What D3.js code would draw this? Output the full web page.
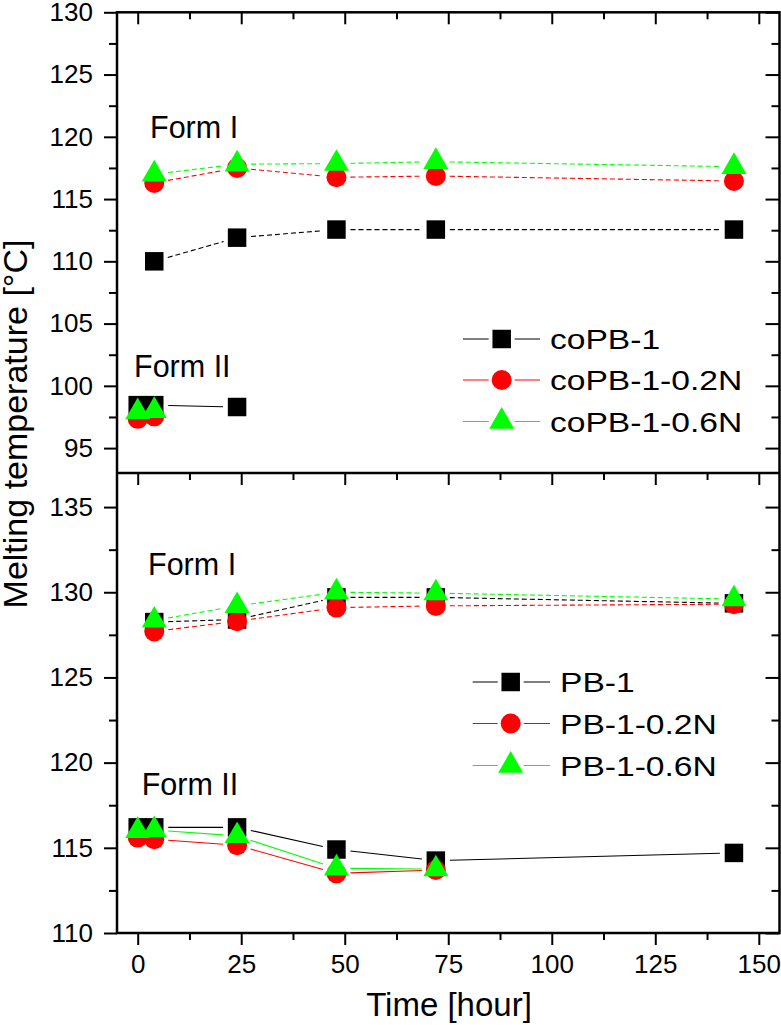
<!DOCTYPE html>
<html>
<head>
<meta charset="utf-8">
<script src="https://cdn.jsdelivr.net/npm/d3@7"></script>
<style>
  html, body { margin: 0; padding: 0; background: #fff; }
  svg { display: block; font-family: "Liberation Sans", Arial, sans-serif; }
</style>
</head>
<body>
<svg id="chart" width="781" height="1025"></svg>
<script>
// ---- data ----
// top panel: copolymer
const timeFormI = [4, 24, 48, 72, 144];
const coPB1_I    = [110.0, 111.9, 112.55, 112.55, 112.55];
const coPB1_02N_I = [116.3, 117.5, 116.75, 116.85, 116.45];
const coPB1_06N_I = [117.0, 117.8, 117.85, 118.0, 117.6];

const timeCoPB1_II = [0, 4, 24];
const coPB1_II     = [98.45, 98.45, 98.3];
const timeCoPBN_II = [0, 4];
const coPB1_02N_II = [97.35, 97.55];
const coPB1_06N_II = [97.9, 98.0];

// bottom panel: homopolymer
const PB1_I     = [128.25, 128.4, 129.7, 129.7, 129.35];
const PB1_02N_I = [127.7, 128.3, 129.1, 129.2, 129.3];
const PB1_06N_I = [128.35, 129.2, 130.0, 129.95, 129.6];

const timePB1_II = [0, 4, 24, 48, 72, 144];
const PB1_II     = [116.2, 116.2, 116.2, 114.9, 114.25, 114.7];
const timePBN_II = [0, 4, 24, 48, 72];
const PB1_02N_II = [115.6, 115.5, 115.15, 113.5, 113.7];
const PB1_06N_II = [116.0, 116.05, 115.7, 113.8, 113.75];

const topLegend = ["coPB-1", "coPB-1-0.2N", "coPB-1-0.6N"];
const botLegend = ["PB-1", "PB-1-0.2N", "PB-1-0.6N"];
const colors = ["#000000", "#ff0000", "#00ff00"];

const xMajor = [0, 25, 50, 75, 100, 125, 150];
const xMinor = [12.5, 37.5, 62.5, 87.5, 112.5, 137.5];
const yTopMajor = [95, 100, 105, 110, 115, 120, 125, 130];
const yTopMinor = [97.5, 102.5, 107.5, 112.5, 117.5, 122.5, 127.5];
const yBotMajor = [110, 115, 120, 125, 130, 135];
const yBotMinor = [112.5, 117.5, 122.5, 127.5, 132.5];

// ---- layout ----
const plotL = 117, plotR = 779.5, plotT = 12.3, plotM = 473, plotB = 933;
const svg = d3.select("#chart");

const x = d3.scaleLinear().domain([-5, 155]).range([plotL, plotR]);
const yTop = d3.scaleLinear().domain([93, 130]).range([plotM, plotT]);
const yBot = d3.scaleLinear().domain([110, 137]).range([plotB, plotM]);

const symbols = [d3.symbolSquare, d3.symbolCircle, d3.symbolTriangle];
const symSize = [342, 314, 270];

function styleAxis(g) {
  g.select(".domain").remove();
  g.selectAll(".tick line").attr("stroke", "#000").attr("stroke-width", 2);
  g.selectAll(".tick text")
    .attr("font-family", "'Liberation Sans', Arial, sans-serif")
    .attr("font-size", 26).attr("fill", "#000");
  g.attr("font-family", null).attr("font-size", null);
}

// left axis (outward), right axis (inward)
function yAxes(y, majors, minors) {
  svg.append("g").attr("transform", `translate(${plotL},0)`)
    .call(d3.axisLeft(y).tickValues(majors).tickSize(13).tickPadding(11).tickFormat(d3.format("d")))
    .call(styleAxis);
  svg.append("g").attr("transform", `translate(${plotL},0)`)
    .call(d3.axisLeft(y).tickValues(minors).tickSize(8).tickFormat(""))
    .call(styleAxis);
  svg.append("g").attr("transform", `translate(${plotR},0)`)
    .call(d3.axisLeft(y).tickValues(majors).tickSize(14).tickFormat(""))
    .call(styleAxis);
  svg.append("g").attr("transform", `translate(${plotR},0)`)
    .call(d3.axisLeft(y).tickValues(minors).tickSize(8).tickFormat(""))
    .call(styleAxis);
}

// horizontal axes: all ticks point down
function xAxis(yPos, labels) {
  svg.append("g").attr("transform", `translate(0,${yPos})`)
    .call(d3.axisBottom(x).tickValues(xMajor).tickSize(12).tickPadding(10)
      .tickFormat(labels ? d3.format("d") : ""))
    .call(styleAxis);
  svg.append("g").attr("transform", `translate(0,${yPos})`)
    .call(d3.axisBottom(x).tickValues(xMinor).tickSize(7).tickFormat(""))
    .call(styleAxis);
}

yAxes(yTop, yTopMajor, yTopMinor);
yAxes(yBot, yBotMajor, yBotMinor);
xAxis(plotT, false);
xAxis(plotM, false);
xAxis(plotB, true);

// frames
svg.append("rect").attr("x", plotL).attr("y", plotT)
  .attr("width", plotR - plotL).attr("height", plotB - plotT)
  .attr("fill", "none").attr("stroke", "#000").attr("stroke-width", 2.5);
svg.append("line").attr("x1", plotL).attr("x2", plotR).attr("y1", plotM).attr("y2", plotM)
  .attr("stroke", "#000").attr("stroke-width", 2.5);

// series: line segments with gaps round the markers, then markers
const gap = 14;
function drawSeries(xs, ys, y, idx, dashed) {
  const pts = xs.map((t, i) => [x(t), y(ys[i])]);
  const g = svg.append("g");
  for (let i = 0; i < pts.length - 1; i++) {
    const [x1, y1] = pts[i], [x2, y2] = pts[i + 1];
    const len = Math.hypot(x2 - x1, y2 - y1);
    if (len <= 2 * gap) continue;
    const ux = (x2 - x1) / len, uy = (y2 - y1) / len;
    g.append("line")
      .attr("x1", x1 + ux * gap).attr("y1", y1 + uy * gap)
      .attr("x2", x2 - ux * gap).attr("y2", y2 - uy * gap)
      .attr("stroke", colors[idx]).attr("stroke-width", 1.1)
      .attr("stroke-dasharray", dashed ? "5,3" : null);
  }
  g.selectAll("path.mark").data(pts).join("path")
    .attr("class", "mark")
    .attr("transform", d => `translate(${d[0]},${d[1]})`)
    .attr("d", d3.symbol().type(symbols[idx]).size(symSize[idx]))
    .attr("fill", colors[idx]);
}

drawSeries(timeFormI, coPB1_I, yTop, 0, true);
drawSeries(timeFormI, coPB1_02N_I, yTop, 1, true);
drawSeries(timeFormI, coPB1_06N_I, yTop, 2, true);
drawSeries(timeCoPB1_II, coPB1_II, yTop, 0, false);
drawSeries(timeCoPBN_II, coPB1_02N_II, yTop, 1, false);
drawSeries(timeCoPBN_II, coPB1_06N_II, yTop, 2, false);

drawSeries(timeFormI, PB1_I, yBot, 0, true);
drawSeries(timeFormI, PB1_02N_I, yBot, 1, true);
drawSeries(timeFormI, PB1_06N_I, yBot, 2, true);
drawSeries(timePB1_II, PB1_II, yBot, 0, false);
drawSeries(timePBN_II, PB1_02N_II, yBot, 1, false);
drawSeries(timePBN_II, PB1_06N_II, yBot, 2, false);

// legends
function legend(names, x0, x1, mx, rows, tx) {
  names.forEach((name, i) => {
    const ry = rows[i];
    svg.append("line").attr("x1", x0).attr("x2", mx - 13).attr("y1", ry).attr("y2", ry)
      .attr("stroke", colors[i]).attr("stroke-width", 1);
    svg.append("line").attr("x1", mx + 13).attr("x2", x1).attr("y1", ry).attr("y2", ry)
      .attr("stroke", colors[i]).attr("stroke-width", 1);
    svg.append("path").attr("transform", `translate(${mx},${ry})`)
      .attr("d", d3.symbol().type(symbols[i]).size(symSize[i]))
      .attr("fill", colors[i]);
    svg.append("g").attr("transform", `translate(${tx},${ry + 10}) scale(1.2,1)`)
      .append("text").attr("font-size", 28).attr("fill", "#000").text(name);
  });
}
legend(topLegend, 463, 540, 501.7, [339, 380, 421.5], 550);
legend(botLegend, 472.7, 550, 510.7, [682, 723.5, 765.5], 560);

// form labels
const formLabels = [
  { t: "Form I", x: 150, y: 138.3 },
  { t: "Form II", x: 134, y: 376.7 },
  { t: "Form I", x: 148, y: 575 },
  { t: "Form II", x: 141.7, y: 795 }
];
svg.selectAll("text.form").data(formLabels).join("text")
  .attr("class", "form")
  .attr("x", d => d.x).attr("y", d => d.y)
  .attr("font-size", 30.5).attr("fill", "#000")
  .text(d => d.t);

// axis titles
svg.append("text")
  .attr("transform", "translate(27,424) rotate(-90)")
  .attr("text-anchor", "middle").attr("font-size", 34).attr("fill", "#000")
  .text("Melting temperature [°C]");
svg.append("text")
  .attr("x", 449).attr("y", 1016)
  .attr("text-anchor", "middle").attr("font-size", 33).attr("fill", "#000")
  .text("Time [hour]");
</script>
</body>
</html>
